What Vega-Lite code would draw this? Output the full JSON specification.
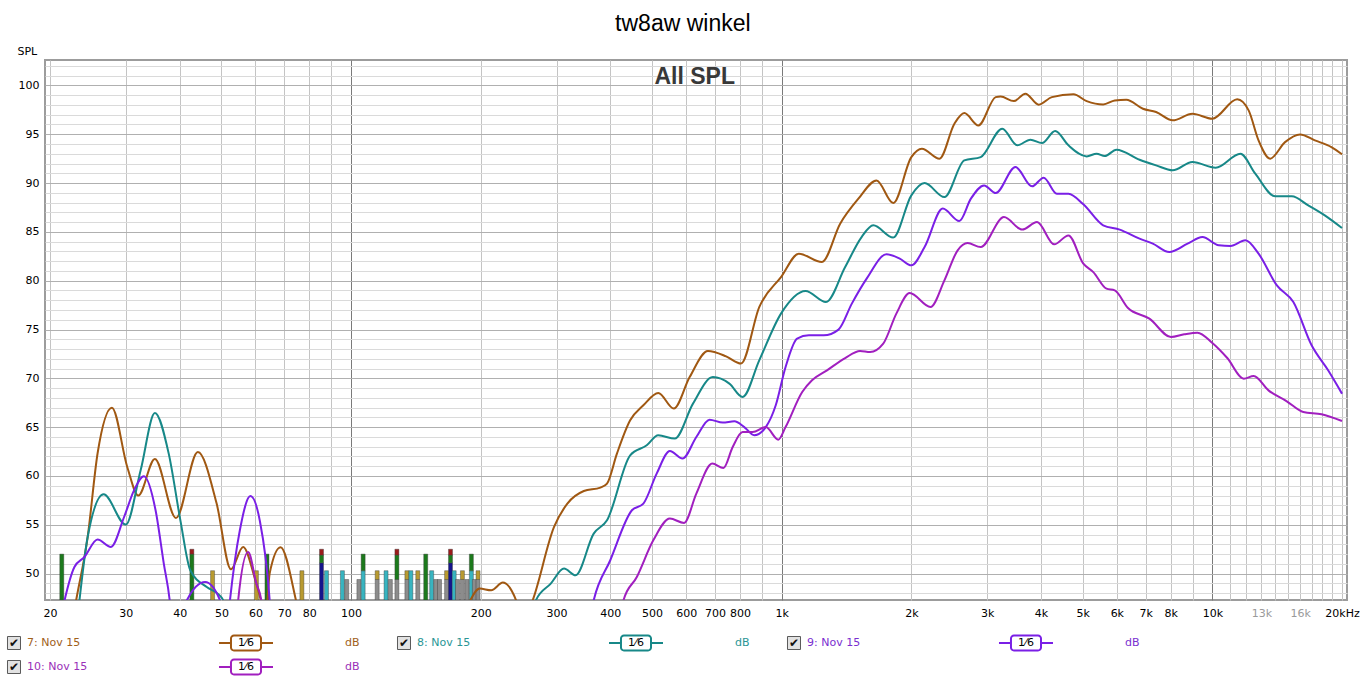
{
  "$schema": "https://vega.github.io/schema/vega-lite/v6.json",
  "description": "REW frequency response, tw8aw winkel",
  "background": "white",
  "padding": {"left": 5, "top": 13, "right": 5, "bottom": 5},
  "title": {"text": "tw8aw winkel", "font": "Liberation Sans", "fontSize": 23, "fontWeight": "normal", "color": "#000", "anchor": "middle", "offset": 8},
  "datasets": {
    "curves": [
      {"s": "7: Nov 15", "f": 21.5, "db": 40}, {"s": "7: Nov 15", "f": 23.0, "db": 47.27}, {"s": "7: Nov 15", "f": 24.46, "db": 53.75}, {"s": "7: Nov 15", "f": 25.79, "db": 62.3}, {"s": "7: Nov 15", "f": 27.85, "db": 67.0}, {"s": "7: Nov 15", "f": 30.24, "db": 60.9}, {"s": "7: Nov 15", "f": 32.06, "db": 58.0}, {"s": "7: Nov 15", "f": 35.04, "db": 61.74}, {"s": "7: Nov 15", "f": 39.22, "db": 55.7}, {"s": "7: Nov 15", "f": 44.09, "db": 62.45}, {"s": "7: Nov 15", "f": 48.75, "db": 57.17}, {"s": "7: Nov 15", "f": 52.62, "db": 50.45}, {"s": "7: Nov 15", "f": 56.16, "db": 52.73}, {"s": "7: Nov 15", "f": 60.28, "db": 49.0}, {"s": "7: Nov 15", "f": 63.46, "db": 46.0}, {"s": "7: Nov 15", "f": 64.73, "db": 50.04}, {"s": "7: Nov 15", "f": 68.6, "db": 52.7}, {"s": "7: Nov 15", "f": 74.5, "db": 47.27}, {"s": "7: Nov 15", "f": 77.2, "db": 44}, {"s": "7: Nov 15", "f": 100, "db": 45.5}, {"s": "7: Nov 15", "f": 113, "db": 47.1}, {"s": "7: Nov 15", "f": 125, "db": 45.5}, {"s": "7: Nov 15", "f": 180, "db": 46}, {"s": "7: Nov 15", "f": 198.9, "db": 48.47}, {"s": "7: Nov 15", "f": 211.6, "db": 48.3}, {"s": "7: Nov 15", "f": 225.2, "db": 49.08}, {"s": "7: Nov 15", "f": 241.7, "db": 47.27}, {"s": "7: Nov 15", "f": 250.9, "db": 45}, {"s": "7: Nov 15", "f": 264.1, "db": 47.27}, {"s": "7: Nov 15", "f": 296.1, "db": 54.78}, {"s": "7: Nov 15", "f": 317.9, "db": 57.17}, {"s": "7: Nov 15", "f": 347.2, "db": 58.46}, {"s": "7: Nov 15", "f": 379.3, "db": 58.81}, {"s": "7: Nov 15", "f": 393, "db": 59.22}, {"s": "7: Nov 15", "f": 414.4, "db": 62.29}, {"s": "7: Nov 15", "f": 444.8, "db": 65.7}, {"s": "7: Nov 15", "f": 477.3, "db": 67.24}, {"s": "7: Nov 15", "f": 516.9, "db": 68.5}, {"s": "7: Nov 15", "f": 561.6, "db": 66.9}, {"s": "7: Nov 15", "f": 611.4, "db": 70.13}, {"s": "7: Nov 15", "f": 674, "db": 72.8}, {"s": "7: Nov 15", "f": 743, "db": 72.25}, {"s": "7: Nov 15", "f": 804.6, "db": 71.51}, {"s": "7: Nov 15", "f": 886.9, "db": 77.3}, {"s": "7: Nov 15", "f": 996.3, "db": 80.37}, {"s": "7: Nov 15", "f": 1096, "db": 82.77}, {"s": "7: Nov 15", "f": 1240, "db": 81.91}, {"s": "7: Nov 15", "f": 1367, "db": 85.84}, {"s": "7: Nov 15", "f": 1507, "db": 88.4}, {"s": "7: Nov 15", "f": 1661, "db": 90.27}, {"s": "7: Nov 15", "f": 1815, "db": 87.95}, {"s": "7: Nov 15", "f": 2000, "db": 92.66}, {"s": "7: Nov 15", "f": 2116, "db": 93.52}, {"s": "7: Nov 15", "f": 2325, "db": 92.5}, {"s": "7: Nov 15", "f": 2518, "db": 96.08}, {"s": "7: Nov 15", "f": 2655, "db": 97.16}, {"s": "7: Nov 15", "f": 2863, "db": 95.9}, {"s": "7: Nov 15", "f": 3140, "db": 98.8}, {"s": "7: Nov 15", "f": 3224, "db": 98.87}, {"s": "7: Nov 15", "f": 3460, "db": 98.39}, {"s": "7: Nov 15", "f": 3680, "db": 99.15}, {"s": "7: Nov 15", "f": 3952, "db": 98.02}, {"s": "7: Nov 15", "f": 4240, "db": 98.8}, {"s": "7: Nov 15", "f": 4758, "db": 99.08}, {"s": "7: Nov 15", "f": 5107, "db": 98.39}, {"s": "7: Nov 15", "f": 5578, "db": 98.05}, {"s": "7: Nov 15", "f": 5934, "db": 98.46}, {"s": "7: Nov 15", "f": 6313, "db": 98.54}, {"s": "7: Nov 15", "f": 6898, "db": 97.61}, {"s": "7: Nov 15", "f": 7402, "db": 97.27}, {"s": "7: Nov 15", "f": 8088, "db": 96.42}, {"s": "7: Nov 15", "f": 8990, "db": 97.1}, {"s": "7: Nov 15", "f": 10000, "db": 96.59}, {"s": "7: Nov 15", "f": 11420, "db": 98.57}, {"s": "7: Nov 15", "f": 12140, "db": 97.44}, {"s": "7: Nov 15", "f": 12800, "db": 94.37}, {"s": "7: Nov 15", "f": 13620, "db": 92.5}, {"s": "7: Nov 15", "f": 14750, "db": 94.19}, {"s": "7: Nov 15", "f": 15980, "db": 94.98}, {"s": "7: Nov 15", "f": 17300, "db": 94.37}, {"s": "7: Nov 15", "f": 18900, "db": 93.68}, {"s": "7: Nov 15", "f": 20000, "db": 92.94},

      {"s": "8: Nov 15", "f": 22.5, "db": 40}, {"s": "8: Nov 15", "f": 23.41, "db": 47.27}, {"s": "8: Nov 15", "f": 24.46, "db": 53.75}, {"s": "8: Nov 15", "f": 26.63, "db": 58.12}, {"s": "8: Nov 15", "f": 29.99, "db": 55.02}, {"s": "8: Nov 15", "f": 32.47, "db": 60.58}, {"s": "8: Nov 15", "f": 35.04, "db": 66.45}, {"s": "8: Nov 15", "f": 37.73, "db": 62.29}, {"s": "8: Nov 15", "f": 40.16, "db": 55.46}, {"s": "8: Nov 15", "f": 42.34, "db": 50.34}, {"s": "8: Nov 15", "f": 46.24, "db": 48.63}, {"s": "8: Nov 15", "f": 49.19, "db": 47.89}, {"s": "8: Nov 15", "f": 50.5, "db": 47.27}, {"s": "8: Nov 15", "f": 51.9, "db": 45}, {"s": "8: Nov 15", "f": 100, "db": 42}, {"s": "8: Nov 15", "f": 254.8, "db": 44}, {"s": "8: Nov 15", "f": 268.7, "db": 47.27}, {"s": "8: Nov 15", "f": 290.9, "db": 48.98}, {"s": "8: Nov 15", "f": 312.3, "db": 50.52}, {"s": "8: Nov 15", "f": 332.2, "db": 49.83}, {"s": "8: Nov 15", "f": 366, "db": 54.1}, {"s": "8: Nov 15", "f": 393, "db": 55.46}, {"s": "8: Nov 15", "f": 444.8, "db": 62.12}, {"s": "8: Nov 15", "f": 486, "db": 63.14}, {"s": "8: Nov 15", "f": 516.9, "db": 64.17}, {"s": "8: Nov 15", "f": 564.6, "db": 63.83}, {"s": "8: Nov 15", "f": 622.3, "db": 67.41}, {"s": "8: Nov 15", "f": 692.1, "db": 70.13}, {"s": "8: Nov 15", "f": 756.1, "db": 69.46}, {"s": "8: Nov 15", "f": 811.4, "db": 68.09}, {"s": "8: Nov 15", "f": 886.9, "db": 71.84}, {"s": "8: Nov 15", "f": 996.3, "db": 76.63}, {"s": "8: Nov 15", "f": 1136, "db": 78.94}, {"s": "8: Nov 15", "f": 1267, "db": 77.81}, {"s": "8: Nov 15", "f": 1404, "db": 81.4}, {"s": "8: Nov 15", "f": 1533, "db": 84.47}, {"s": "8: Nov 15", "f": 1632, "db": 85.67}, {"s": "8: Nov 15", "f": 1815, "db": 84.41}, {"s": "8: Nov 15", "f": 2000, "db": 88.74}, {"s": "8: Nov 15", "f": 2147, "db": 90.0}, {"s": "8: Nov 15", "f": 2387, "db": 88.56}, {"s": "8: Nov 15", "f": 2655, "db": 92.32}, {"s": "8: Nov 15", "f": 2898, "db": 92.66}, {"s": "8: Nov 15", "f": 3253, "db": 95.57}, {"s": "8: Nov 15", "f": 3523, "db": 93.86}, {"s": "8: Nov 15", "f": 3780, "db": 94.44}, {"s": "8: Nov 15", "f": 4021, "db": 94.09}, {"s": "8: Nov 15", "f": 4315, "db": 95.32}, {"s": "8: Nov 15", "f": 4633, "db": 93.86}, {"s": "8: Nov 15", "f": 5107, "db": 92.73}, {"s": "8: Nov 15", "f": 5384, "db": 93.01}, {"s": "8: Nov 15", "f": 5626, "db": 92.76}, {"s": "8: Nov 15", "f": 5988, "db": 93.42}, {"s": "8: Nov 15", "f": 6776, "db": 92.39}, {"s": "8: Nov 15", "f": 7402, "db": 91.81}, {"s": "8: Nov 15", "f": 8088, "db": 91.3}, {"s": "8: Nov 15", "f": 8990, "db": 92.15}, {"s": "8: Nov 15", "f": 10180, "db": 91.57}, {"s": "8: Nov 15", "f": 11620, "db": 93.01}, {"s": "8: Nov 15", "f": 12580, "db": 90.96}, {"s": "8: Nov 15", "f": 13990, "db": 88.64}, {"s": "8: Nov 15", "f": 15290, "db": 88.64}, {"s": "8: Nov 15", "f": 16700, "db": 87.71}, {"s": "8: Nov 15", "f": 18240, "db": 86.69}, {"s": "8: Nov 15", "f": 20000, "db": 85.39},

      {"s": "9: Nov 15", "f": 20.5, "db": 42}, {"s": "9: Nov 15", "f": 21.62, "db": 47.27}, {"s": "9: Nov 15", "f": 22.79, "db": 50.68}, {"s": "9: Nov 15", "f": 24.04, "db": 51.7}, {"s": "9: Nov 15", "f": 25.79, "db": 53.49}, {"s": "9: Nov 15", "f": 27.7, "db": 52.73}, {"s": "9: Nov 15", "f": 29.72, "db": 55.8}, {"s": "9: Nov 15", "f": 31.34, "db": 58.53}, {"s": "9: Nov 15", "f": 33.04, "db": 59.97}, {"s": "9: Nov 15", "f": 35.17, "db": 56.49}, {"s": "9: Nov 15", "f": 36.75, "db": 51.03}, {"s": "9: Nov 15", "f": 37.93, "db": 47.27}, {"s": "9: Nov 15", "f": 39.17, "db": 40}, {"s": "9: Nov 15", "f": 40.44, "db": 44}, {"s": "9: Nov 15", "f": 41.58, "db": 47.27}, {"s": "9: Nov 15", "f": 45.84, "db": 49.15}, {"s": "9: Nov 15", "f": 49.64, "db": 47.27}, {"s": "9: Nov 15", "f": 51.2, "db": 43}, {"s": "9: Nov 15", "f": 52.35, "db": 47.27}, {"s": "9: Nov 15", "f": 55.19, "db": 54.44}, {"s": "9: Nov 15", "f": 58.4, "db": 57.95}, {"s": "9: Nov 15", "f": 61.38, "db": 55.46}, {"s": "9: Nov 15", "f": 64.73, "db": 47.27}, {"s": "9: Nov 15", "f": 65.87, "db": 42}, {"s": "9: Nov 15", "f": 200, "db": 38}, {"s": "9: Nov 15", "f": 350.4, "db": 43}, {"s": "9: Nov 15", "f": 366, "db": 47.27}, {"s": "9: Nov 15", "f": 399.9, "db": 51.37}, {"s": "9: Nov 15", "f": 449, "db": 56.49}, {"s": "9: Nov 15", "f": 477.3, "db": 57.17}, {"s": "9: Nov 15", "f": 512.5, "db": 60.24}, {"s": "9: Nov 15", "f": 550, "db": 62.56}, {"s": "9: Nov 15", "f": 588.4, "db": 61.78}, {"s": "9: Nov 15", "f": 633.6, "db": 63.99}, {"s": "9: Nov 15", "f": 680, "db": 65.77}, {"s": "9: Nov 15", "f": 729.7, "db": 65.47}, {"s": "9: Nov 15", "f": 776.5, "db": 65.6}, {"s": "9: Nov 15", "f": 818.7, "db": 65.01}, {"s": "9: Nov 15", "f": 863.5, "db": 64.17}, {"s": "9: Nov 15", "f": 918.6, "db": 65.01}, {"s": "9: Nov 15", "f": 968.7, "db": 67.24}, {"s": "9: Nov 15", "f": 1021, "db": 71.16}, {"s": "9: Nov 15", "f": 1086, "db": 74.07}, {"s": "9: Nov 15", "f": 1156, "db": 74.4}, {"s": "9: Nov 15", "f": 1252, "db": 74.4}, {"s": "9: Nov 15", "f": 1355, "db": 74.99}, {"s": "9: Nov 15", "f": 1455, "db": 77.65}, {"s": "9: Nov 15", "f": 1575, "db": 80.21}, {"s": "9: Nov 15", "f": 1751, "db": 82.7}, {"s": "9: Nov 15", "f": 1880, "db": 82.26}, {"s": "9: Nov 15", "f": 2000, "db": 81.57}, {"s": "9: Nov 15", "f": 2147, "db": 83.44}, {"s": "9: Nov 15", "f": 2366, "db": 87.38}, {"s": "9: Nov 15", "f": 2585, "db": 86.11}, {"s": "9: Nov 15", "f": 2750, "db": 88.4}, {"s": "9: Nov 15", "f": 2951, "db": 89.76}, {"s": "9: Nov 15", "f": 3140, "db": 88.97}, {"s": "9: Nov 15", "f": 3490, "db": 91.64}, {"s": "9: Nov 15", "f": 3813, "db": 89.66}, {"s": "9: Nov 15", "f": 4058, "db": 90.55}, {"s": "9: Nov 15", "f": 4354, "db": 88.91}, {"s": "9: Nov 15", "f": 4633, "db": 88.91}, {"s": "9: Nov 15", "f": 5017, "db": 87.82}, {"s": "9: Nov 15", "f": 5578, "db": 85.67}, {"s": "9: Nov 15", "f": 6093, "db": 85.23}, {"s": "9: Nov 15", "f": 6776, "db": 84.3}, {"s": "9: Nov 15", "f": 7274, "db": 83.79}, {"s": "9: Nov 15", "f": 7943, "db": 82.93}, {"s": "9: Nov 15", "f": 8760, "db": 83.79}, {"s": "9: Nov 15", "f": 9484, "db": 84.47}, {"s": "9: Nov 15", "f": 10350, "db": 83.62}, {"s": "9: Nov 15", "f": 11020, "db": 83.55}, {"s": "9: Nov 15", "f": 11930, "db": 84.13}, {"s": "9: Nov 15", "f": 12800, "db": 82.77}, {"s": "9: Nov 15", "f": 14120, "db": 79.52}, {"s": "9: Nov 15", "f": 15420, "db": 77.81}, {"s": "9: Nov 15", "f": 17000, "db": 73.38}, {"s": "9: Nov 15", "f": 18570, "db": 70.82}, {"s": "9: Nov 15", "f": 20000, "db": 68.43},

      {"s": "10: Nov 15", "f": 53.8, "db": 42}, {"s": "10: Nov 15", "f": 54.7, "db": 47.27}, {"s": "10: Nov 15", "f": 57.69, "db": 52.22}, {"s": "10: Nov 15", "f": 60.28, "db": 48.98}, {"s": "10: Nov 15", "f": 61.9, "db": 47.27}, {"s": "10: Nov 15", "f": 63.2, "db": 42}, {"s": "10: Nov 15", "f": 200, "db": 36}, {"s": "10: Nov 15", "f": 410.9, "db": 42}, {"s": "10: Nov 15", "f": 429.2, "db": 47.27}, {"s": "10: Nov 15", "f": 460.9, "db": 49.66}, {"s": "10: Nov 15", "f": 503.3, "db": 53.41}, {"s": "10: Nov 15", "f": 550, "db": 55.64}, {"s": "10: Nov 15", "f": 593.4, "db": 55.19}, {"s": "10: Nov 15", "f": 633.6, "db": 58.2}, {"s": "10: Nov 15", "f": 689.9, "db": 61.27}, {"s": "10: Nov 15", "f": 732.4, "db": 60.82}, {"s": "10: Nov 15", "f": 769.5, "db": 62.97}, {"s": "10: Nov 15", "f": 811.4, "db": 64.5}, {"s": "10: Nov 15", "f": 855.8, "db": 64.5}, {"s": "10: Nov 15", "f": 918.6, "db": 65.01}, {"s": "10: Nov 15", "f": 982.2, "db": 63.72}, {"s": "10: Nov 15", "f": 1021, "db": 65.01}, {"s": "10: Nov 15", "f": 1116, "db": 68.6}, {"s": "10: Nov 15", "f": 1176, "db": 69.8}, {"s": "10: Nov 15", "f": 1274, "db": 70.82}, {"s": "10: Nov 15", "f": 1404, "db": 72.08}, {"s": "10: Nov 15", "f": 1521, "db": 72.8}, {"s": "10: Nov 15", "f": 1604, "db": 72.69}, {"s": "10: Nov 15", "f": 1721, "db": 73.55}, {"s": "10: Nov 15", "f": 1846, "db": 76.63}, {"s": "10: Nov 15", "f": 1983, "db": 78.73}, {"s": "10: Nov 15", "f": 2216, "db": 77.3}, {"s": "10: Nov 15", "f": 2387, "db": 80.03}, {"s": "10: Nov 15", "f": 2562, "db": 83.11}, {"s": "10: Nov 15", "f": 2702, "db": 83.85}, {"s": "10: Nov 15", "f": 2898, "db": 83.44}, {"s": "10: Nov 15", "f": 3282, "db": 86.52}, {"s": "10: Nov 15", "f": 3617, "db": 85.23}, {"s": "10: Nov 15", "f": 3917, "db": 86.0}, {"s": "10: Nov 15", "f": 4293, "db": 83.72}, {"s": "10: Nov 15", "f": 4633, "db": 84.64}, {"s": "10: Nov 15", "f": 5017, "db": 81.74}, {"s": "10: Nov 15", "f": 5291, "db": 80.88}, {"s": "10: Nov 15", "f": 5678, "db": 79.18}, {"s": "10: Nov 15", "f": 5934, "db": 79.01}, {"s": "10: Nov 15", "f": 6370, "db": 77.2}, {"s": "10: Nov 15", "f": 7143, "db": 76.11}, {"s": "10: Nov 15", "f": 8015, "db": 74.23}, {"s": "10: Nov 15", "f": 8603, "db": 74.51}, {"s": "10: Nov 15", "f": 9235, "db": 74.68}, {"s": "10: Nov 15", "f": 10000, "db": 73.62}, {"s": "10: Nov 15", "f": 10830, "db": 72.08}, {"s": "10: Nov 15", "f": 11830, "db": 69.97}, {"s": "10: Nov 15", "f": 12470, "db": 70.24}, {"s": "10: Nov 15", "f": 13500, "db": 68.77}, {"s": "10: Nov 15", "f": 14890, "db": 67.65}, {"s": "10: Nov 15", "f": 16260, "db": 66.55}, {"s": "10: Nov 15", "f": 17930, "db": 66.32}, {"s": "10: Nov 15", "f": 20000, "db": 65.63}
    ],
    "bars": [
      {"f": 21.3, "lo": 47.3, "db": 52.0, "k": "green"},
      {"f": 42.7, "lo": 47.3, "db": 52.0, "k": "green"}, {"f": 42.7, "lo": 52.0, "db": 52.5, "k": "red"},
      {"f": 47.7, "lo": 47.3, "db": 50.3, "k": "olive"},
      {"f": 60.3, "lo": 47.3, "db": 50.3, "k": "olive"},
      {"f": 63.8, "lo": 47.3, "db": 52.0, "k": "green"},
      {"f": 76.9, "lo": 47.3, "db": 50.3, "k": "olive"},
      {"f": 85.4, "lo": 47.3, "db": 51.1, "k": "blue"}, {"f": 85.4, "lo": 51.1, "db": 51.9, "k": "green"}, {"f": 85.4, "lo": 51.9, "db": 52.5, "k": "red"},
      {"f": 87.7, "lo": 47.3, "db": 50.3, "k": "cyan"},
      {"f": 95.5, "lo": 47.3, "db": 50.3, "k": "cyan"},
      {"f": 97.7, "lo": 47.3, "db": 49.4, "k": "gray"},
      {"f": 104.3, "lo": 47.3, "db": 49.4, "k": "gray"},
      {"f": 106.7, "lo": 47.3, "db": 50.3, "k": "cyan"}, {"f": 106.7, "lo": 50.3, "db": 52.0, "k": "green"},
      {"f": 115, "lo": 47.3, "db": 49.4, "k": "gray"}, {"f": 115, "lo": 49.4, "db": 50.3, "k": "olive"},
      {"f": 120.6, "lo": 47.3, "db": 50.3, "k": "cyan"},
      {"f": 123.4, "lo": 47.3, "db": 49.4, "k": "gray"},
      {"f": 127.8, "lo": 47.3, "db": 49.4, "k": "gray"}, {"f": 127.8, "lo": 49.4, "db": 51.9, "k": "green"}, {"f": 127.8, "lo": 51.9, "db": 52.5, "k": "red"},
      {"f": 134.8, "lo": 47.3, "db": 49.4, "k": "gray"}, {"f": 134.8, "lo": 49.4, "db": 50.3, "k": "olive"},
      {"f": 137.7, "lo": 47.3, "db": 50.3, "k": "cyan"},
      {"f": 142.9, "lo": 47.3, "db": 49.4, "k": "gray"}, {"f": 142.9, "lo": 49.4, "db": 50.3, "k": "olive"},
      {"f": 149.1, "lo": 47.3, "db": 52.0, "k": "green"},
      {"f": 153.9, "lo": 47.3, "db": 50.3, "k": "cyan"},
      {"f": 157.3, "lo": 47.3, "db": 49.4, "k": "gray"},
      {"f": 160.5, "lo": 47.3, "db": 49.4, "k": "gray"},
      {"f": 166.7, "lo": 47.3, "db": 49.4, "k": "gray"}, {"f": 166.7, "lo": 49.4, "db": 50.3, "k": "olive"},
      {"f": 170.2, "lo": 47.3, "db": 51.1, "k": "blue"}, {"f": 170.2, "lo": 51.1, "db": 51.9, "k": "green"}, {"f": 170.2, "lo": 51.9, "db": 52.5, "k": "red"},
      {"f": 173.6, "lo": 47.3, "db": 50.3, "k": "cyan"},
      {"f": 176.7, "lo": 47.3, "db": 49.4, "k": "gray"},
      {"f": 181.4, "lo": 47.3, "db": 49.4, "k": "gray"}, {"f": 181.4, "lo": 49.4, "db": 50.3, "k": "olive"},
      {"f": 186, "lo": 47.3, "db": 49.4, "k": "gray"},
      {"f": 190.3, "lo": 47.3, "db": 50.3, "k": "cyan"}, {"f": 190.3, "lo": 50.3, "db": 52.0, "k": "green"},
      {"f": 193.4, "lo": 47.3, "db": 49.4, "k": "gray"},
      {"f": 197.2, "lo": 47.3, "db": 49.4, "k": "gray"}, {"f": 197.2, "lo": 49.4, "db": 50.3, "k": "olive"}
    ],
    "legend": [
      {"s": "7: Nov 15", "slot": 0, "row": 0},
      {"s": "8: Nov 15", "slot": 1, "row": 0},
      {"s": "9: Nov 15", "slot": 2, "row": 0},
      {"s": "10: Nov 15", "slot": 0, "row": 1}
    ]
  },
  "vconcat": [
    {
      "width": 1302,
      "height": 540,
      "encoding": {
        "x": {
          "field": "f", "type": "quantitative",
          "scale": {"type": "log", "domain": [20, 20000], "nice": false},
          "axis": {
            "title": null, "ticks": false, "tickSize": 0, "domain": false,
            "values": [20, 30, 40, 50, 60, 70, 80, 90, 100, 200, 300, 400, 500, 600, 700, 800, 900, 1000, 2000, 3000, 4000, 5000, 6000, 7000, 8000, 9000, 10000, 11000, 12000, 13000, 14000, 15000, 16000, 17000, 18000, 19000, 20000],
            "labelExpr": "datum.value >= 20000 ? '20kHz' : (indexof([1000, 2000, 3000, 4000, 5000, 6000, 7000, 8000, 10000, 13000, 16000], datum.value) >= 0 ? (datum.value / 1000) + 'k' : (indexof([20, 30, 40, 50, 60, 70, 80, 100, 200, 300, 400, 500, 600, 700, 800], datum.value) >= 0 ? '' + datum.value : ''))",
            "labelFlush": false, "labelOverlap": false, "labelPadding": 7,
            "labelFont": "DejaVu Sans", "labelFontSize": 11,
            "labelColor": {"condition": {"test": "datum.value == 13000 || datum.value == 16000", "value": "#9a9a9a"}, "value": "#000000"},
            "grid": true, "gridWidth": 1,
            "gridColor": {"condition": {"test": "datum.value == 100 || datum.value == 1000 || datum.value == 10000", "value": "#7a7a7a"}, "value": "#c4c4c4"}
          }
        },
        "y": {
          "field": "db", "type": "quantitative",
          "scale": {"domain": [47.3, 102.6], "nice": false, "zero": false},
          "axis": {
            "title": "SPL", "titleAngle": 0, "titleAlign": "left", "titleBaseline": "alphabetic",
            "titleX": -28, "titleY": -6, "titleFont": "DejaVu Sans", "titleFontSize": 11, "titleFontWeight": "normal", "titleColor": "#000000",
            "ticks": false, "tickSize": 0, "domain": false,
            "values": [48, 49, 50, 51, 52, 53, 54, 55, 56, 57, 58, 59, 60, 61, 62, 63, 64, 65, 66, 67, 68, 69, 70, 71, 72, 73, 74, 75, 76, 77, 78, 79, 80, 81, 82, 83, 84, 85, 86, 87, 88, 89, 90, 91, 92, 93, 94, 95, 96, 97, 98, 99, 100, 101, 102],
            "labelExpr": "datum.value % 5 === 0 ? datum.label : ''",
            "labelOverlap": false, "labelPadding": 6,
            "labelFont": "DejaVu Sans", "labelFontSize": 11, "labelColor": "#000000",
            "grid": true, "gridWidth": 1,
            "gridColor": {"condition": {"test": "datum.value % 5 === 0", "value": "#b0b0b0"}, "value": "#dadada"}
          }
        }
      },
      "layer": [
        {
          "data": {"name": "bars"},
          "mark": {"type": "bar", "clip": true, "size": 4, "stroke": "#3a3a3a", "strokeWidth": 0.4},
          "encoding": {
            "y2": {"field": "lo"},
            "color": {
              "field": "k", "type": "nominal", "legend": null,
              "scale": {"domain": ["green", "red", "blue", "cyan", "olive", "gray"], "range": ["#1c7a1c", "#9c1c1c", "#14148c", "#38b4c0", "#b89a30", "#8c8c8c"]}
            }
          }
        },
        {
          "data": {"name": "curves"},
          "mark": {"type": "line", "clip": true, "interpolate": "monotone", "strokeWidth": 2},
          "encoding": {
            "color": {
              "field": "s", "type": "nominal", "legend": null,
              "scale": {"domain": ["7: Nov 15", "8: Nov 15", "9: Nov 15", "10: Nov 15"], "range": ["#a05812", "#178888", "#7a1fe6", "#a11fbf"]}
            }
          }
        },
        {
          "data": {"values": [{"f": 628, "db": 100.17, "t": "All SPL"}]},
          "mark": {"type": "text", "font": "Liberation Sans", "fontSize": 23, "fontWeight": "bold", "color": "#383838", "align": "center", "baseline": "alphabetic"},
          "encoding": {"text": {"field": "t"}}
        }
      ],
      "resolve": {"scale": {"color": "independent"}}
    },
    {
      "width": 1302,
      "height": 48,
      "view": {"stroke": null},
      "data": {"name": "legend"},
      "encoding": {
        "x": {"field": "slot", "type": "quantitative", "scale": {"domain": [0.0795, 3.418], "nice": false, "zero": false}, "axis": null},
        "y": {"field": "row", "type": "quantitative", "scale": {"domain": [-0.5, 1.5], "nice": false, "zero": false, "reverse": true}, "axis": null}
      },
      "layer": [
        {
          "mark": {"type": "point", "shape": "square", "size": 169, "filled": true, "fill": "#e2e2e2", "stroke": "#5a5a5a", "strokeWidth": 1, "opacity": 1}
        },
        {
          "mark": {"type": "text", "text": "✔", "font": "DejaVu Sans", "fontSize": 12, "color": "#111111", "align": "center", "baseline": "middle", "dy": 0}
        },
        {
          "mark": {"type": "text", "font": "DejaVu Sans", "fontSize": 11, "align": "left", "baseline": "middle", "xOffset": 13},
          "encoding": {
            "text": {"field": "s"},
            "color": {"field": "s", "type": "nominal", "legend": null, "scale": {"domain": ["7: Nov 15", "8: Nov 15", "9: Nov 15", "10: Nov 15"], "range": ["#a0601a", "#2a9595", "#7a2fd0", "#9a30b8"]}}
          }
        },
        {
          "mark": {"type": "point", "shape": "M-1,0H-0.556M0.556,0H1M-0.444,-0.278H0.444A0.111,0.111 0 0 1 0.556,-0.167V0.167A0.111,0.111 0 0 1 0.444,0.278H-0.444A0.111,0.111 0 0 1 -0.556,0.167V-0.167A0.111,0.111 0 0 1 -0.444,-0.278Z", "size": 2916, "filled": true, "fill": "#ffffff", "strokeWidth": 2, "opacity": 1, "xOffset": 232},
          "encoding": {
            "stroke": {"field": "s", "type": "nominal", "legend": null, "scale": {"domain": ["7: Nov 15", "8: Nov 15", "9: Nov 15", "10: Nov 15"], "range": ["#a05812", "#178888", "#7a1fe6", "#a11fbf"]}}
          }
        },
        {
          "mark": {"type": "text", "text": "1⁄6", "font": "DejaVu Sans", "fontSize": 11, "color": "#000000", "align": "center", "baseline": "middle", "xOffset": 232}
        },
        {
          "mark": {"type": "text", "text": "dB", "font": "DejaVu Sans", "fontSize": 11, "align": "left", "baseline": "middle", "xOffset": 331},
          "encoding": {
            "color": {"field": "s", "type": "nominal", "legend": null, "scale": {"domain": ["7: Nov 15", "8: Nov 15", "9: Nov 15", "10: Nov 15"], "range": ["#a0601a", "#2a9595", "#7a2fd0", "#9a30b8"]}}
          }
        }
      ],
      "resolve": {"scale": {"color": "independent"}}
    }
  ],
  "spacing": 31,
  "bounds": "flush",
  "config": {
    "view": {"stroke": "#9c9c9c", "strokeWidth": 2},
    "font": "DejaVu Sans"
  }
}
